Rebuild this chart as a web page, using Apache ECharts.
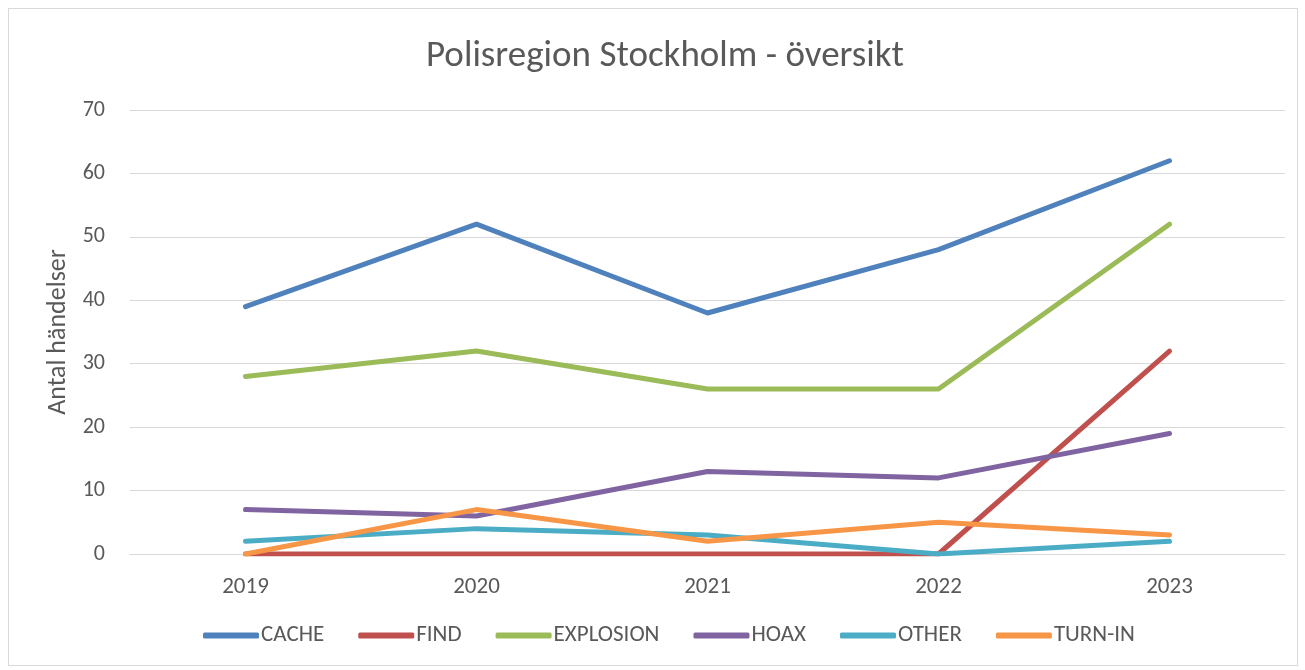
<!DOCTYPE html>
<html>
<head>
<meta charset="utf-8">
<script src="https://cdn.jsdelivr.net/npm/echarts@6/dist/echarts.min.js"></script>
<style>
  html, body { margin: 0; padding: 0; background: #fff; }
  #chart { width: 1305px; height: 670px; }
  #frame { position: absolute; left: 8px; top: 8px; width: 1288px; height: 656px; border: 1px solid #d9d9d9; pointer-events: none; }
</style>
</head>
<body>
<div id="chart"></div>
<div id="frame"></div>
<script>
var years = ['2019', '2020', '2021', '2022', '2023'];
var cache = [39, 52, 38, 48, 62];
var find = [0, 0, 0, 0, 32];
var explosion = [28, 32, 26, 26, 52];
var hoax = [7, 6, 13, 12, 19];
var other = [2, 4, 3, 0, 2];
var turnIn = [0, 7, 2, 5, 3];

var names = ['CACHE', 'FIND', 'EXPLOSION', 'HOAX', 'OTHER', 'TURN-IN'];
var colors = ['#4F81BD', '#C0504D', '#9BBB59', '#8064A2', '#4BACC6', '#F79646'];
var values = [cache, find, explosion, hoax, other, turnIn];

var myChart = echarts.init(document.getElementById('chart'));
var font = 'Calibri, Carlito, "Liberation Sans", sans-serif';

var option = {
  animation: false,
  color: colors,
  textStyle: { fontFamily: font },
  title: {
    text: 'Polisregion Stockholm - översikt',
    left: 421,
    top: 33,
    textStyle: { fontSize: 37, fontWeight: 'normal', color: '#595959', fontFamily: font }
  },
  legend: {
    bottom: 18,
    left: 198,
    itemWidth: 56,
    itemHeight: 6,
    itemGap: 34,
    icon: 'roundRect',
    textStyle: { fontSize: 23, color: '#595959', padding: [0, 0, 0, -3] },
    data: names
  },
  grid: { left: 130, right: 20, top: 110, bottom: 116 },
  xAxis: {
    type: 'category',
    data: years,
    boundaryGap: true,
    axisLine: { lineStyle: { color: '#d9d9d9', width: 1 } },
    axisTick: { show: false },
    axisLabel: { fontSize: 23, color: '#595959', margin: 22 }
  },
  yAxis: {
    type: 'value',
    min: 0,
    max: 70,
    interval: 10,
    name: 'Antal händelser',
    nameLocation: 'middle',
    nameGap: 54,
    nameTextStyle: { fontSize: 26, color: '#595959' },
    axisLine: { show: false },
    axisTick: { show: false },
    axisLabel: { fontSize: 22, color: '#595959', margin: 25 },
    splitLine: { lineStyle: { color: '#d9d9d9', width: 1 } }
  },
  series: names.map(function (n, i) {
    return {
      name: n,
      type: 'line',
      data: values[i],
      symbol: 'none',
      lineStyle: { width: 5, cap: 'round', join: 'round' },
      z: 2 + i
    };
  })
};

myChart.setOption(option);
</script>
</body>
</html>
